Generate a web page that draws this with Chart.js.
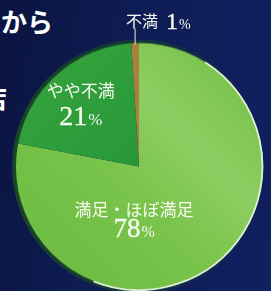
<!DOCTYPE html>
<html>
<head>
<meta charset="utf-8">
<script src="https://cdn.jsdelivr.net/npm/chart.js@4"></script>
<style>
  html, body { margin: 0; padding: 0; }
  body {
    width: 271px; height: 291px; overflow: hidden; position: relative;
    background: linear-gradient(100deg, #0a1440 0%, #0e1d55 45%, #102060 100%);
    font-family: "Noto Sans CJK JP", sans-serif;
  }
  .head { position: absolute; color: #fff; font-weight: 700; font-size: 26px; line-height: 1; }
  #wrap { position: absolute; left: 0; top: 0; width: 271px; height: 291px; }
</style>
</head>
<body>
<div class="head" style="left:1px; top:8px;">から</div>
<div class="head" style="left:-19px; top:84px;">店</div>
<div id="wrap"><canvas id="pie"></canvas></div>
<script>
const labels = ['満足・ほぼ満足', 'やや不満', '不満'];
const values = [78, 21, 1];
const shown = ['78', '21', '1'];

// where each label sits, relative to the pie centre, in radii
const labelPos = [
  { dx: -0.04, dy: 0.35, dy2: 0.50, size: 17, numSize: 27 },
  { dx: -0.47, dy: -0.615, dy2: -0.41, size: 17, numSize: 28 },
];

const ctx = document.getElementById('pie').getContext('2d');

function sliceColor(context) {
  const chart = context.chart;
  const area = chart.chartArea;
  if (!area) return '#70c040';
  const c = chart.ctx;
  if (context.dataIndex === 0) {
    const g = c.createLinearGradient(area.left, area.bottom, area.right, area.top);
    g.addColorStop(0, '#6aba3e');
    g.addColorStop(0.45, '#7ac44c');
    g.addColorStop(0.65, '#8ecd62');
    g.addColorStop(1, '#70bd43');
    return g;
  }
  if (context.dataIndex === 1) {
    const g = c.createLinearGradient(area.left, area.top, area.left + area.width / 2, area.top + area.height / 2);
    g.addColorStop(0, '#38a63c');
    g.addColorStop(1, '#27973a');
    return g;
  }
  return '#a8823c';
}

const rimPlugin = {
  id: 'rim',
  afterDatasetsDraw(chart) {
    const arc = chart.getDatasetMeta(0).data[0];
    const c = chart.ctx;
    const { x, y, outerRadius: r } = arc;
    c.save();
    const dark = c.createLinearGradient(x - r, y, x + r, y);
    dark.addColorStop(0, 'rgba(25,70,40,0.95)');
    dark.addColorStop(0.5, 'rgba(25,70,40,0.6)');
    dark.addColorStop(1, 'rgba(25,70,40,0)');
    c.strokeStyle = dark;
    c.lineWidth = 4;
    c.beginPath();
    c.arc(x, y, r + 1, 0, Math.PI * 2);
    c.stroke();
    c.strokeStyle = 'rgba(235,250,225,0.9)';
    c.lineWidth = 1.8;
    c.beginPath();
    c.arc(x, y, r - 0.5, -Math.PI * 0.32, Math.PI * 0.62);
    c.stroke();
    c.restore();
  }
};

function drawNumber(c, num, left, base, size) {
  const pSize = Math.round(size * 0.6);
  c.textAlign = 'left';
  c.textBaseline = 'alphabetic';
  c.lineWidth = 0.35;
  c.font = size + 'px "Liberation Serif", serif';
  const w1 = c.measureText(num).width;
  c.fillText(num, left, base);
  c.strokeText(num, left, base);
  c.font = pSize + 'px "Liberation Serif", serif';
  c.fillText('%', left + w1 + 1, base);
}

function numberWidth(c, num, size) {
  c.font = size + 'px "Liberation Serif", serif';
  const w1 = c.measureText(num).width;
  c.font = Math.round(size * 0.6) + 'px "Liberation Serif", serif';
  return w1 + 1 + c.measureText('%').width;
}

const labelPlugin = {
  id: 'sliceLabels',
  afterDraw(chart) {
    const arc = chart.getDatasetMeta(0).data[0];
    const c = chart.ctx;
    const { x, y, outerRadius: r } = arc;
    c.save();
    c.fillStyle = '#f6faee';
    c.strokeStyle = '#f6faee';
    labelPos.forEach((p, i) => {
      c.font = p.size + 'px "Noto Sans CJK JP", sans-serif';
      c.textAlign = 'center';
      c.textBaseline = 'middle';
      c.fillText(labels[i], x + p.dx * r, y + p.dy * r);
      const w = numberWidth(c, shown[i], p.numSize);
      drawNumber(c, shown[i], x + p.dx * r - w / 2, y + p.dy2 * r + p.numSize * 0.33, p.numSize);
    });
    // outside label for the thin slice, with a leader line
    const thin = chart.getDatasetMeta(0).data[2];
    const mid = (thin.startAngle + thin.endAngle) / 2;
    const lx = x + Math.cos(mid) * r;
    const ly = y + Math.sin(mid) * r;
    c.strokeStyle = '#e8eef0';
    c.lineWidth = 1;
    c.beginPath();
    c.moveTo(lx, ly + 2);
    c.lineTo(lx, ly - 14);
    c.stroke();
    const ty = y - 1.17 * r;
    c.font = '16px "Noto Sans CJK JP", sans-serif';
    c.textAlign = 'left';
    c.textBaseline = 'middle';
    const tx = lx - 9;
    c.fillText(labels[2], tx, ty);
    const w = c.measureText(labels[2]).width;
    c.strokeStyle = '#f6faee';
    drawNumber(c, shown[2], tx + w + 8, ty + 8, 24);
    c.restore();
  }
};

new Chart(ctx, {
  type: 'pie',
  data: {
    labels: labels,
    datasets: [{
      data: values,
      backgroundColor: sliceColor,
      borderWidth: 0,
    }]
  },
  options: {
    responsive: true,
    maintainAspectRatio: false,
    animation: false,
    rotation: 0,
    layout: { padding: { left: 15, right: 8, top: 42, bottom: 0 } },
    plugins: {
      legend: { display: false },
      tooltip: { enabled: false },
    }
  },
  plugins: [rimPlugin, labelPlugin]
});
</script>
</body>
</html>
